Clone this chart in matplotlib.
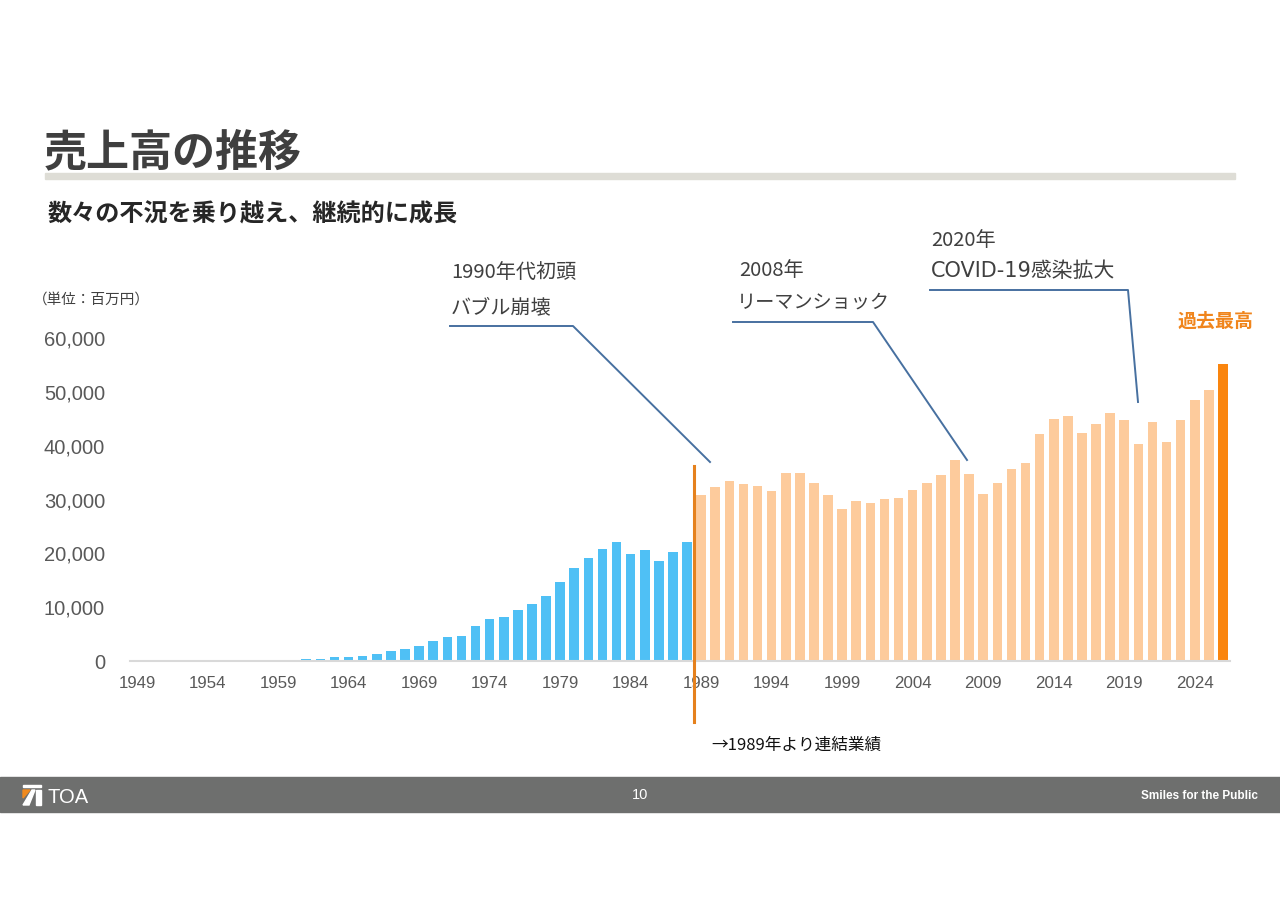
import matplotlib
matplotlib.use("Agg")
import matplotlib.pyplot as plt
from matplotlib.patches import Rectangle, Polygon
from matplotlib.lines import Line2D

plt.rcParams['font.family'] = ['Noto Sans CJK JP', 'DejaVu Sans']

# 売上高（百万円）1949-2026
years = list(range(1949, 2027))
sales = [20, 25, 30, 35, 40, 60, 80, 120, 120, 190,
         190, 250, 310, 370, 680, 680, 870, 1360, 1860, 2230,
         2790, 3720, 4400, 4580, 6500, 7870, 8240, 9420, 10590, 12140,
         14620, 17220, 19140, 20880, 22120, 19950, 20630, 18590, 20320, 22180,
         30790, 32400, 33400, 32840, 32530, 31660, 34880, 35000, 33020, 30850,
         28190, 29740, 29430, 30170, 30240, 31720, 33090, 34630, 37360, 34700,
         31040, 33150, 35750, 36800, 42190, 44920, 45600, 42320, 43990, 46100,
         44860, 40330, 44360, 40700, 44860, 48570, 50370, 55200]
tick_years = list(range(1949, 2025, 5))
y_ticks = [0, 10000, 20000, 30000, 40000, 50000, 60000]

W, H = 1280, 905
fig = plt.figure(figsize=(12.8, 9.05), dpi=100)


def fx(x):
    return x / W


def fy(y):
    return 1 - y / H


colors = []
for yr in years:
    if yr < 1989:
        colors.append('#4FC0F5')
    elif yr == 2026:
        colors.append('#FA850E')
    else:
        colors.append('#FDCB9C')

ax = fig.add_axes([fx(130), fy(661), fx(1230) - fx(130), fy(338) - fy(661)])
idx = list(range(len(years)))
ax.bar(idx, sales, width=0.68, color=colors, zorder=2)
ax.set_xlim(-0.5, len(years) - 0.5)
ax.set_ylim(0, 60000)
ax.set_yticks(y_ticks)
ax.set_yticklabels([f'{v:,}' for v in y_ticks], fontfamily='Liberation Sans',
                   fontsize=14.5, color='#595959')
ax.set_xticks([years.index(t) for t in tick_years])
ax.set_xticklabels([str(t) for t in tick_years], fontfamily='Liberation Sans',
                   fontsize=12.2, color='#595959')
ax.tick_params(axis='both', length=0)
ax.tick_params(axis='y', pad=18)
ax.tick_params(axis='x', pad=11)
for s in ['top', 'right', 'left']:
    ax.spines[s].set_visible(False)
ax.spines['bottom'].set_color('#D9D9D9')
ax.spines['bottom'].set_linewidth(1.5)

# 1989 separator
sep = years.index(1989) - 0.5
ax.plot([sep, sep], [-11300, 36200], color='#E5811D', lw=2.2, clip_on=False, zorder=3)

# title area
fig.text(fx(44), fy(152), '売上高の推移', fontsize=31, fontweight='bold',
         color='#3F3F3F', va='center', ha='left')
fig.patches.append(Rectangle((fx(45), fy(179)), fx(1235) - fx(45), fy(173) - fy(179),
                             transform=fig.transFigure, color='#DEDDD6', zorder=0))
fig.text(fx(47), fy(214), '数々の不況を乗り越え、継続的に成長', fontsize=17.4,
         fontweight='bold', color='#262626', va='center', ha='left')
fig.text(fx(33), fy(300), '（単位：百万円）', fontsize=10.5, color='#404040',
         va='center', ha='left')

# annotations
ann_color = '#4770A0'
txt_color = '#404040'
fig.text(fx(451), fy(273), '1990年代初頭', fontsize=14.5, color=txt_color, va='center')
fig.text(fx(451), fy(308), 'バブル崩壊', fontsize=14.5, color=txt_color, va='center')
fig.add_artist(Line2D([fx(450), fx(573), fx(710)], [fy(326), fy(326), fy(462)],
                      color=ann_color, lw=1.4))

fig.text(fx(739), fy(271), '2008年', fontsize=14.5, color=txt_color, va='center')
fig.text(fx(737), fy(302), 'リーマンショック', fontsize=13.8, color=txt_color, va='center')
fig.add_artist(Line2D([fx(733), fx(873), fx(967)], [fy(322), fy(322), fy(460)],
                      color=ann_color, lw=1.4))

fig.text(fx(931), fy(240), '2020年', fontsize=14.5, color=txt_color, va='center')
fig.text(fx(931), fy(271), 'COVID-19感染拡大', fontsize=15, color=txt_color, va='center',
         fontfamily=['DejaVu Sans', 'Noto Sans CJK JP'])
fig.add_artist(Line2D([fx(930), fx(1128), fx(1138)], [fy(290), fy(290), fy(402)],
                      color=ann_color, lw=1.4))

fig.text(fx(1215), fy(321), '過去最高', fontsize=13.7, fontweight='bold',
         color='#F0851C', va='center', ha='center')

fig.text(fx(711), fy(745), '→1989年より連結業績', fontsize=12, color='#111111',
         va='center', ha='left')

# footer band
fig.patches.append(Rectangle((0, fy(812)), 1, fy(777) - fy(812),
                             transform=fig.transFigure, color='#6E6F6E', zorder=0))
fig.text(0.5, fy(795), '10', fontsize=10.5, color='white', va='center', ha='center',
         fontfamily='Liberation Sans')
fig.text(fx(1258), fy(796), 'Smiles for the Public', fontsize=8.5, fontweight='bold',
         color='white', va='center', ha='right',
         fontfamily=['Liberation Sans Narrow', 'Liberation Sans'])

# TOA logo
fig.patches.append(Rectangle((fx(23), fy(787)), fx(41) - fx(23), fy(785) - fy(787),
                             transform=fig.transFigure, color='white'))
fig.patches.append(Polygon([(fx(23), fy(790)), (fx(30), fy(790)), (fx(23), fy(798))],
                           closed=True, transform=fig.transFigure, color='#F08A1E'))
fig.patches.append(Polygon([(fx(23), fy(805)), (fx(32), fy(790)), (fx(35), fy(790)),
                            (fx(29), fy(805))],
                           closed=True, transform=fig.transFigure, color='white'))
fig.patches.append(Rectangle((fx(36), fy(805)), fx(41) - fx(36), fy(790) - fy(805),
                             transform=fig.transFigure, color='white'))
fig.text(fx(47), fy(797), 'TOA', fontsize=14.5, color='white', va='center', ha='left',
         fontfamily='Liberation Sans', fontweight='light')

fig.savefig('out.png', dpi=100)
